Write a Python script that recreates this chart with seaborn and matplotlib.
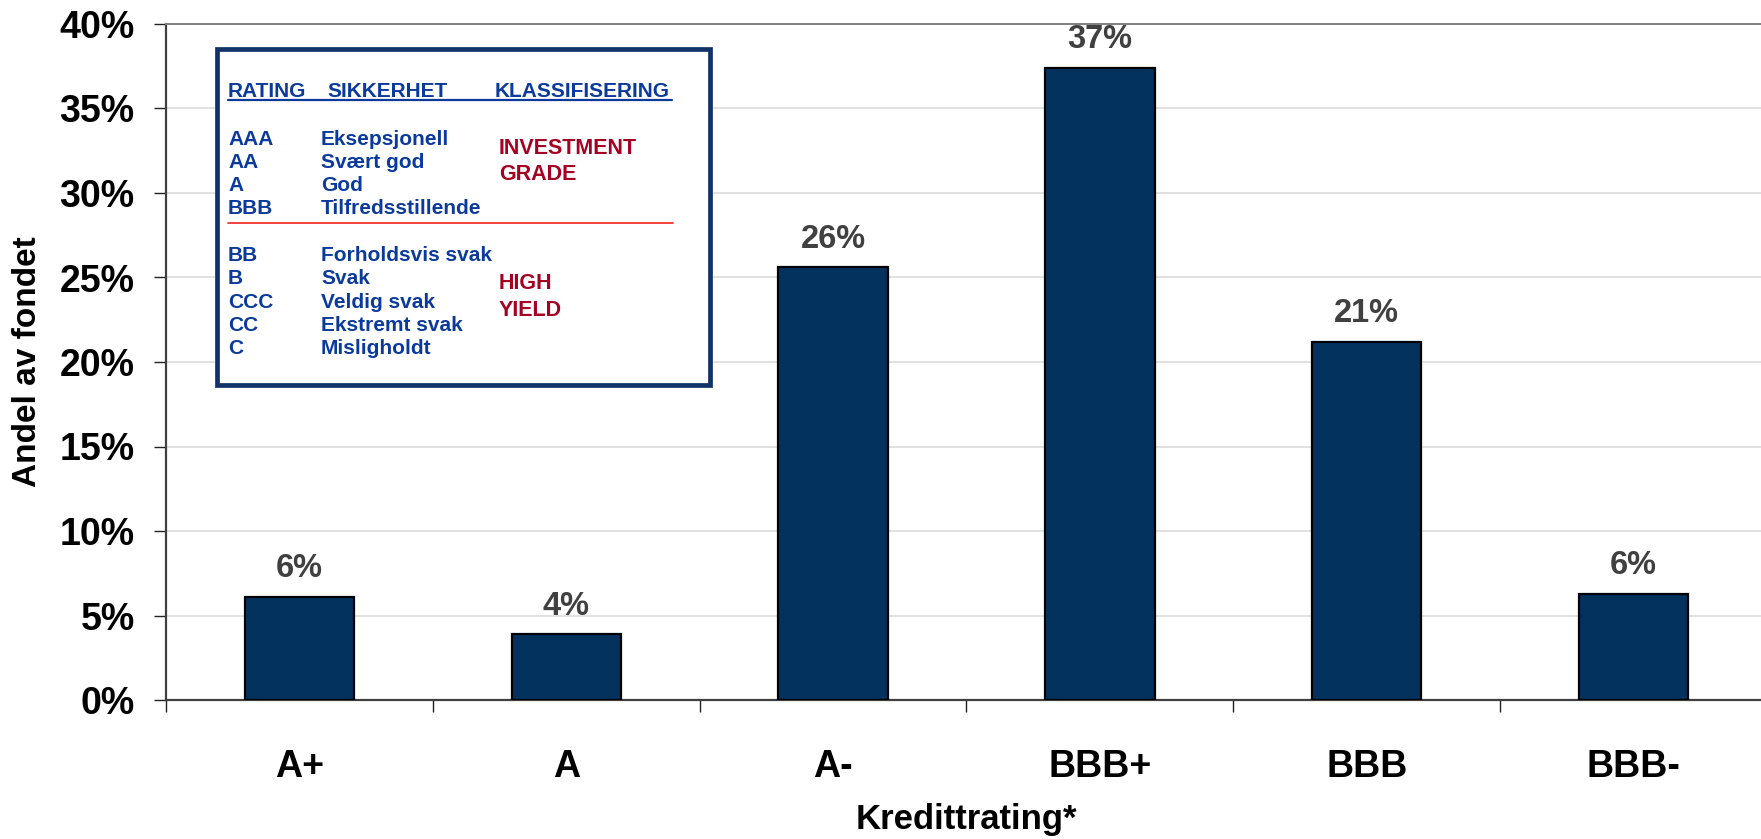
import matplotlib
matplotlib.use("Agg")
import matplotlib.pyplot as plt
from matplotlib.patches import Rectangle
from matplotlib.lines import Line2D
from matplotlib.ticker import FixedLocator, PercentFormatter
import seaborn as sns
import pandas as pd

# Fund allocation by credit rating (percent of fund)
ratings = ["A+", "A", "A-", "BBB+", "BBB", "BBB-"]
shares = [6.1, 3.9, 25.6, 37.4, 21.2, 6.3]
y_ticks = [0, 5, 10, 15, 20, 25, 30, 35, 40]

# Rating scale explanation shown in the box
scale_ratings = ["AAA", "AA", "A", "BBB", "BB", "B", "CCC", "CC", "C"]
scale_quality = ["Eksepsjonell", "Svært god", "God", "Tilfredsstillende",
                 "Forholdsvis svak", "Svak", "Veldig svak", "Ekstremt svak", "Misligholdt"]
header = ["RATING", "SIKKERHET", "KLASSIFISERING"]
class_labels = [["INVESTMENT", "GRADE"], ["HIGH", "YIELD"]]

sns.set_theme(style="white")
plt.rcParams["font.family"] = ["Liberation Sans", "DejaVu Sans"]

W, H = 1761, 839
fig = plt.figure(figsize=(W / 100, H / 100), dpi=100)


def fx(x):
    return x / W


def fy(y):
    return 1 - y / H


ax = fig.add_axes([fx(166), fy(700), fx(1767) - fx(166), fy(24) - fy(700)])

df = pd.DataFrame({"rating": ratings, "share": shares})
sns.barplot(data=df, x="rating", y="share", color="#03325F", saturation=1,
            width=0.41, edgecolor="black", linewidth=1.6, ax=ax, zorder=3)

ax.set_xlim(-0.5, len(ratings) - 0.5)
ax.set_ylim(0, 40)
ax.yaxis.set_major_locator(FixedLocator(y_ticks))
ax.yaxis.set_major_formatter(PercentFormatter(decimals=0))
ax.grid(axis="y", color="#D9D9D9", linewidth=1.1, zorder=0)
ax.grid(axis="x", visible=False)

# category boundaries carry the x ticks; labels sit at category centres
ax.set_xticks([i - 0.5 for i in range(len(ratings) + 1)], minor=True)
ax.tick_params(axis="x", which="minor", length=8.6, width=1.0, color="#222222",
               direction="out", bottom=True)
ax.tick_params(axis="x", which="major", length=0, pad=35)
ax.tick_params(axis="y", which="major", length=8.6, width=1.0, color="#222222",
               direction="out", left=True, pad=14)
for lab in ax.get_xticklabels() + ax.get_yticklabels():
    lab.set_fontsize(27)
    lab.set_fontweight("bold")
    lab.set_color("black")

for side in ["left", "bottom"]:
    ax.spines[side].set_color("#404040")
    ax.spines[side].set_linewidth(1.6)
ax.spines["top"].set_color("#808080")
ax.spines["top"].set_linewidth(1.4)
ax.spines["right"].set_visible(False)

ax.set_xlabel("Kredittrating*", fontsize=25, fontweight="bold", color="black", labelpad=13)
ax.set_ylabel("Andel av fondet", fontsize=24, fontweight="bold", color="black", labelpad=12)

ax.bar_label(ax.containers[0], labels=[f"{v:.0f}%" for v in shares],
             padding=9, fontsize=23.5, fontweight="bold", color="#404040")

# rating scale box
blue = "#0A3A9C"
red = "#A50021"
fig.patches.append(Rectangle((fx(217), fy(385)), fx(710) - fx(217), fy(49) - fy(385),
                             transform=fig.transFigure, facecolor="white",
                             edgecolor="#12336A", linewidth=3.4, zorder=5))

fs = 15
for txt, x in zip(header, [228, 327, 495]):
    fig.text(fx(x), fy(97), txt, color=blue, fontsize=fs, fontweight="bold",
             va="baseline", ha="left", zorder=6)
fig.lines.append(Line2D([fx(228), fx(672)], [fy(99.5), fy(99.5)], transform=fig.transFigure,
                        color=blue, linewidth=1.6, zorder=6))

row_y = [145, 168, 191, 214, 261, 284, 308, 331, 354]
for r, q, y in zip(scale_ratings, scale_quality, row_y):
    fig.text(fx(228), fy(y), r, color=blue, fontsize=fs, fontweight="bold",
             va="baseline", ha="left", zorder=6)
    fig.text(fx(321), fy(y), q, color=blue, fontsize=fs, fontweight="bold",
             va="baseline", ha="left", zorder=6)

fig.lines.append(Line2D([fx(228), fx(673)], [fy(222.5), fy(222.5)], transform=fig.transFigure,
                        color="#F02020", linewidth=1.2, zorder=6))

for (l1, l2), (y1, y2) in zip(class_labels, [(154, 180), (289, 316)]):
    fig.text(fx(499), fy(y1), l1, color=red, fontsize=15.5, fontweight="bold",
             va="baseline", ha="left", zorder=6)
    fig.text(fx(499), fy(y2), l2, color=red, fontsize=15.5, fontweight="bold",
             va="baseline", ha="left", zorder=6)

fig.savefig("out.png", dpi=100)
